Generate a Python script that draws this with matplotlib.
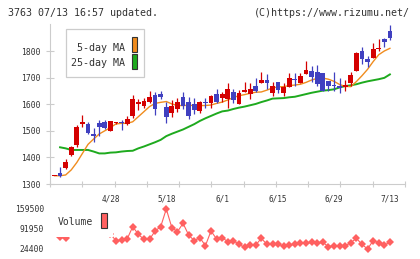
import numpy as np
import matplotlib
matplotlib.use("Agg")
import matplotlib.pyplot as plt
from matplotlib.patches import Rectangle

plt.rcParams['font.family'] = ['DejaVu Sans Mono']

# daily candles 4/14 .. 7/13 (61 trading days)
opens = [1331, 1340, 1361, 1409, 1447, 1524, 1524, 1488, 1530, 1532,
         1499, 1528, 1534, 1524, 1557, 1602, 1594, 1608, 1635, 1638,
         1588, 1566, 1582, 1626, 1610, 1601, 1576, 1607, 1603, 1638,
         1625, 1620, 1647, 1601, 1645, 1638, 1668, 1681, 1691, 1643,
         1682, 1643, 1666, 1694, 1681, 1713, 1725, 1720, 1716, 1687,
         1672, 1668, 1666, 1681, 1726, 1800, 1770, 1772, 1806, 1845,
         1875]
highs = [1331, 1363, 1394, 1443, 1522, 1559, 1532, 1509, 1541, 1541,
         1537, 1534, 1541, 1556, 1635, 1618, 1625, 1650, 1647, 1651,
         1610, 1616, 1622, 1647, 1626, 1622, 1613, 1625, 1635, 1656,
         1647, 1678, 1656, 1653, 1685, 1678, 1700, 1722, 1713, 1685,
         1682, 1678, 1716, 1716, 1716, 1762, 1744, 1747, 1716, 1687,
         1720, 1700, 1691, 1720, 1797, 1814, 1781, 1831, 1844, 1850,
         1897]
lows = [1331, 1327, 1356, 1406, 1440, 1515, 1488, 1459, 1480, 1506,
        1499, 1524, 1503, 1522, 1547, 1578, 1584, 1606, 1559, 1618,
        1528, 1553, 1572, 1582, 1544, 1563, 1566, 1584, 1584, 1603,
        1610, 1587, 1603, 1601, 1645, 1620, 1645, 1678, 1656, 1632,
        1643, 1632, 1666, 1668, 1681, 1713, 1685, 1670, 1651, 1651,
        1651, 1643, 1651, 1670, 1726, 1750, 1739, 1772, 1800, 1816,
        1841]
closes = [1331, 1330, 1381, 1438, 1513, 1533, 1493, 1482, 1515, 1512,
          1537, 1534, 1528, 1544, 1620, 1610, 1612, 1626, 1582, 1628,
          1553, 1593, 1610, 1594, 1557, 1578, 1607, 1603, 1631, 1607,
          1638, 1657, 1616, 1643, 1653, 1657, 1651, 1691, 1681, 1668,
          1653, 1666, 1697, 1691, 1706, 1729, 1703, 1676, 1651, 1670,
          1670, 1660, 1672, 1710, 1794, 1769, 1760, 1807, 1812, 1835,
          1850]
up_day = [True, False, True, True, True, True, False, False, False, False,
          True, True, False, True, True, True, True, True, False, False,
          False, True, True, False, False, False, True, False, True, False,
          True, True, False, True, True, True, False, True, False, True,
          False, True, True, False, True, True, False, False, False, False,
          False, False, True, True, True, False, False, True, True, False,
          False]

ma5 = [1331, 1331, 1334, 1353, 1381, 1415, 1449, 1469, 1488, 1500,
       1512, 1526, 1528, 1528, 1534, 1553, 1572, 1591, 1603, 1607,
       1610, 1601, 1595, 1595, 1596, 1595, 1595, 1595, 1597, 1603,
       1608, 1616, 1625, 1632, 1636, 1641, 1645, 1646, 1653, 1661,
       1665, 1666, 1670, 1672, 1675, 1682, 1691, 1697, 1698, 1694,
       1686, 1674, 1667, 1666, 1685, 1707, 1731, 1760, 1786, 1800,
       1810]
ma25 = [np.nan, 1438, 1434, 1428, 1428, 1428, 1428, 1422, 1415, 1415,
        1418, 1419, 1422, 1424, 1425, 1434, 1441, 1449, 1457, 1466,
        1480, 1489, 1497, 1505, 1515, 1525, 1537, 1547, 1556, 1565,
        1573, 1576, 1582, 1587, 1591, 1596, 1601, 1608, 1614, 1621,
        1622, 1623, 1626, 1628, 1633, 1638, 1643, 1647, 1651, 1653,
        1656, 1663, 1668, 1671, 1675, 1681, 1686, 1690, 1694, 1699,
        1712]
volume = [95000, 63900, 60500, 120000, 150000, 140000, 110000, 105000, 95000, 90000,
          75000, 52500, 54800, 58200, 99800, 73900, 57000, 57000, 85200, 99800,
          159500, 96400, 82900, 111100, 71700, 52500, 62700, 35700, 85200, 58200,
          62700, 49200, 52500, 40200, 30000, 37900, 37900, 60400, 40200, 40200,
          40200, 34500, 37900, 40200, 45800, 43500, 46900, 43500, 46900, 32300,
          35700, 34500, 34500, 45800, 60400, 40200, 24400, 52500, 45800, 37900,
          46900]

date_pos = [10, 20, 30, 40, 50, 60]
date_labels = ['4/28', '5/18', '6/1', '6/15', '6/29', '7/13']
price_ticks = [1300, 1400, 1500, 1600, 1700, 1800]
vol_ticks = [24400, 91950, 159500]

RED = '#d40000'
BLUE = '#4040c0'
ORANGE = '#f08c1e'
GREEN = '#1eaa1e'
PINK = '#ff6060'
GRID = '#cccccc'
TXT = '#333333'

W, H = 420, 259
fig = plt.figure(figsize=(W / 100, H / 100), dpi=100)


def px_axes(x0, y0, x1, y1):
    return fig.add_axes([x0 / W, 1 - y1 / H, (x1 - x0) / W, (y1 - y0) / H])


x = np.arange(len(closes))
xlim = (-0.8, 62.7)

# price chart
ax = px_axes(50, 24.4, 405, 184)
ax.set_xlim(*xlim)
ax.set_ylim(1300, 1900)
ax.plot(x, ma25, color=GREEN, lw=1.4, zorder=2)
ax.plot(x, ma5, color=ORANGE, lw=1.0, zorder=2)

colors = [RED if u else BLUE for u in up_day]
bottoms = [min(o, c) for o, c in zip(opens, closes)]
heights = [max(abs(c - o), 2.5) for o, c in zip(opens, closes)]
ax.vlines(x, lows, highs, colors=colors, lw=0.9, zorder=3)
ax.bar(x, heights, bottom=bottoms, width=0.85, color=colors, lw=0, zorder=4)

for s in ['top', 'right']:
    ax.spines[s].set_visible(False)
for s in ['left', 'bottom']:
    ax.spines[s].set_color(GRID)
    ax.spines[s].set_linewidth(0.8)
ax.set_yticks(price_ticks)
ax.set_yticklabels([str(t) for t in price_ticks])
ax.tick_params(axis='y', direction='inout', length=5.8, color=GRID,
               labelsize=5.8, labelcolor=TXT, pad=4)
ax.set_xticks(np.linspace(xlim[0], xlim[1], 12))
ax.set_xticklabels([])
ax.tick_params(axis='x', which='major', direction='inout', length=4.3, color=GRID)
ax.set_xticks(date_pos, minor=True)
ax.set_xticklabels(date_labels, minor=True)
ax.tick_params(axis='x', which='minor', length=0, labelsize=5.6,
               labelcolor=TXT, pad=7.2)

# price legend
fig.patches.append(Rectangle((66 / W, 1 - 77 / H), 78 / W, 48 / H, transform=fig.transFigure,
                             facecolor='white', edgecolor=GRID, lw=0.9, zorder=10))
fig.text(125 / W, 1 - 47.7 / H, '5-day MA', ha='right', va='center', fontsize=7.2,
         color=TXT, zorder=11)
fig.text(125 / W, 1 - 62.7 / H, '25-day MA', ha='right', va='center', fontsize=7.2,
         color=TXT, zorder=11)
for yy, c in [(37.3, ORANGE), (54.3, GREEN)]:
    fig.patches.append(Rectangle((131.7 / W, 1 - (yy + 15) / H), 5.5 / W, 15 / H,
                                 transform=fig.transFigure, facecolor=c,
                                 edgecolor='#333333', lw=0.8, zorder=11))

# volume chart
px_per = (159500 - 91950) / 20.0
axv = px_axes(50, 205, 405, 253)
axv.set_xlim(*xlim)
axv.set_ylim(24400 - 4 * px_per, 159500 + 4 * px_per)
axv.plot(x, volume, color=PINK, lw=0.8, marker='D', ms=3.9, mew=0, mfc=PINK)
for s in axv.spines.values():
    s.set_visible(False)
axv.set_xticks([])
axv.set_yticks(vol_ticks)
axv.set_yticklabels([str(t) for t in vol_ticks])
axv.tick_params(axis='y', length=0, labelsize=5.8, labelcolor=TXT, pad=4.3)

# volume legend (white box hides the early part of the line)
fig.patches.append(Rectangle((50 / W, 1 - 237 / H), 63 / W, 34 / H, transform=fig.transFigure,
                             facecolor='white', edgecolor='none', zorder=10))
fig.text(58 / W, 1 - 222 / H, 'Volume', ha='left', va='center', fontsize=7.0,
         color=TXT, zorder=11)
fig.patches.append(Rectangle((101 / W, 1 - 228 / H), 6.5 / W, 15 / H, transform=fig.transFigure,
                             facecolor=PINK, edgecolor='#333333', lw=0.8, zorder=11))

# header
fig.text(8 / W, 1 - 12.5 / H, '3763 07/13 16:57 updated.', ha='left', va='center',
         fontsize=7.2, color=TXT)
fig.text(410 / W, 1 - 12.5 / H, '(C)https://www.rizumu.net/', ha='right', va='center',
         fontsize=7.2, color=TXT)

fig.savefig('out.png', dpi=100, facecolor='white')
